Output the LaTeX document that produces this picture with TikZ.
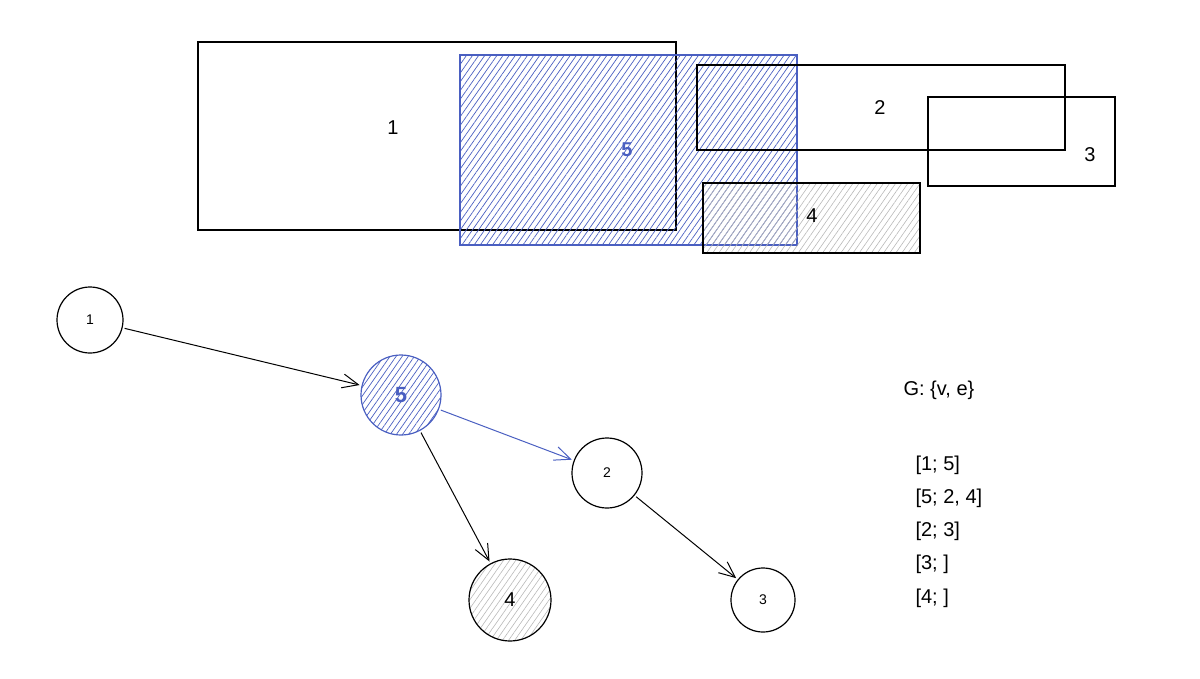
\documentclass[tikz,border=0pt]{standalone}
\usepackage{fontspec}
\setmainfont{Liberation Sans}
\usetikzlibrary{patterns.meta,arrows.meta}
\definecolor{bl}{HTML}{4A5FC1}
\definecolor{gr}{HTML}{9A9A9A}
\begin{document}
\begin{tikzpicture}[x=1pt,y=-1pt,
  box/.style={draw=black,line width=1.2pt},
  hb/.style={pattern={Lines[angle=55,distance=5pt,line width=0.7pt]},pattern color=bl},
  hg/.style={pattern={Lines[angle=55,distance=5pt,line width=0.6pt]},pattern color=gr!70},
  lbl/.style={font=\fontsize{20}{24}\selectfont},
  vert/.style={circle,draw=black,line width=1.2pt,inner sep=0pt},
  arr/.style={-{Straight Barb[length=16pt,width=14pt]},line width=1pt,shorten >=2pt,shorten <=2pt},
  txt/.style={anchor=west,font=\fontsize{20}{24}\selectfont}]
\useasboundingbox (0,0) rectangle (1200,678);
\draw[box] (198,42) rectangle (676,230);
\fill[hb] (460,55) rectangle (797,245);
\draw[draw=bl,line width=1.2pt] (460,55) rectangle (797,245);
\draw[box] (697,65) rectangle (1065,150);
\draw[box] (928,97) rectangle (1115,186);
\fill[hg] (703,183) rectangle (920,253);
\draw[box] (703,183) rectangle (920,253);
\node[lbl] (r1) at (393,128) {1};
\node[lbl,text=bl] (r5) at (627,150) {\textbf{5}};
\node[lbl] (r2) at (880,108) {2};
\node[lbl] (r3) at (1090,155) {3};
\node[lbl] (r4) at (812,216) {4};
\node[vert,minimum size=66pt,font=\fontsize{14}{16}\selectfont] (n1) at (90,320) {1};
\node[vert,draw=bl,minimum size=80pt,hb,text=bl,font=\bfseries\fontsize{22}{26}\selectfont] (n5) at (401,395) {5};
\node[vert,minimum size=70pt,font=\fontsize{14}{16}\selectfont] (n2) at (607,473) {2};
\node[vert,minimum size=82pt,hg,font=\fontsize{20}{24}\selectfont] (n4) at (510,600) {4};
\node[vert,minimum size=64pt,font=\fontsize{14}{16}\selectfont] (n3) at (763,600) {3};
\draw[arr] (n1) -- (n5);
\draw[arr,draw=bl] (n5) -- (n2);
\draw[arr] (n5) -- (n4);
\draw[arr] (n2) -- (n3);
\node[txt] (g) at (900,390) {G: \{v, e\}};
\node[txt] (l1) at (912,465) {[1; 5]};
\node[txt] (l2) at (912,498) {[5; 2, 4]};
\node[txt] (l3) at (912,531) {[2; 3]};
\node[txt] (l4) at (912,564) {[3; ]};
\node[txt] (l5) at (912,598) {[4; ]};
\end{tikzpicture}
\end{document}
